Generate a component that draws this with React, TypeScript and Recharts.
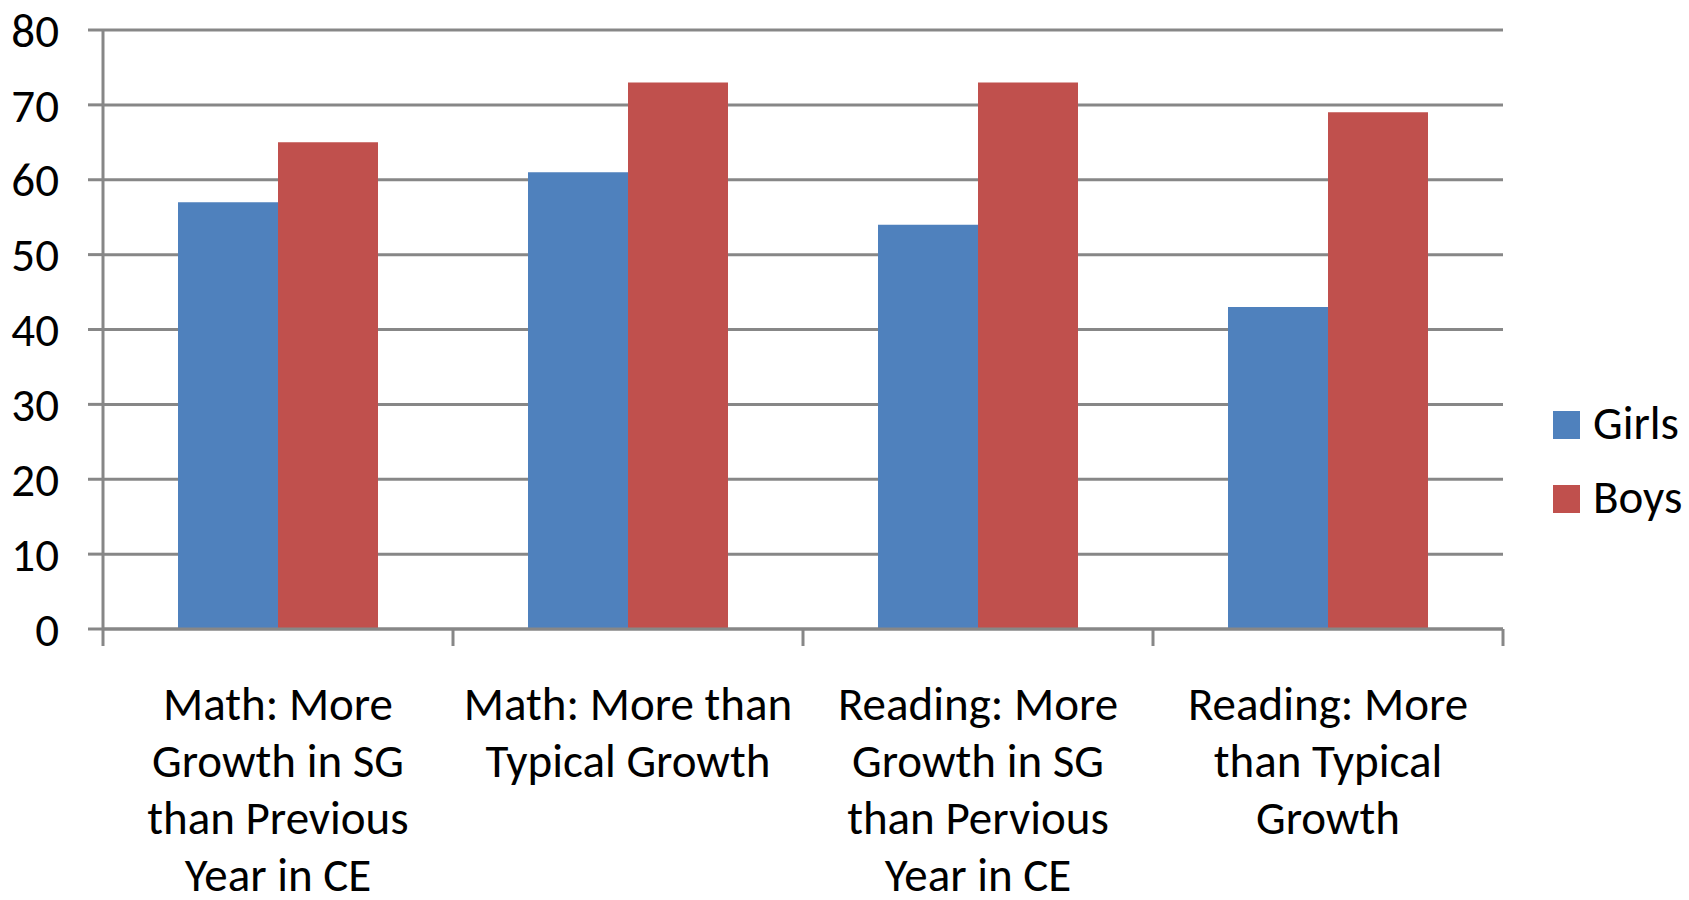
import React from "react";
import { BarChart, Bar, XAxis, YAxis, CartesianGrid, Legend } from "recharts";

const categories = [
  "Math: More Growth in SG than Previous Year in CE",
  "Math: More than Typical Growth",
  "Reading: More Growth in SG than Pervious Year in CE",
  "Reading: More than Typical Growth",
];
const tickLabelLines = [
  ["Math: More", "Growth in SG", "than Previous", "Year in CE"],
  ["Math: More than", "Typical Growth"],
  ["Reading: More", "Growth in SG", "than Pervious", "Year in CE"],
  ["Reading: More", "than Typical", "Growth"],
];
const girls = [57, 61, 54, 43];
const boys = [65, 73, 73, 69];
const seriesNames = ["Girls", "Boys"];
const seriesColors = ["#4F81BD", "#C0504D"];
const yTicks = [0, 10, 20, 30, 40, 50, 60, 70, 80];

const data = categories.map((c, i) => ({ category: c, [seriesNames[0]]: girls[i], [seriesNames[1]]: boys[i] }));

const FONT = "Carlito, Calibri, Lato, sans-serif";
const FS = 47;
const GRAY = "#878787";

const CategoryTick = (props: any) => {
  const { x, y, payload, index, visibleTicksCount } = props;
  const half = payload && payload.offset ? payload.offset : 175;
  const lines = tickLabelLines[index] || [];
  return (
    <g>
      <line x1={x - half} x2={x - half} y1={y} y2={y + 17} stroke={GRAY} strokeWidth={3} />
      {index === visibleTicksCount - 1 && (
        <line x1={x + half} x2={x + half} y1={y} y2={y + 17} stroke={GRAY} strokeWidth={3} />
      )}
      <text x={x} y={y + 91} textAnchor="middle" fontSize={FS} fontFamily={FONT} fill="#000">
        {lines.map((l, k) => (
          <tspan key={k} x={x} dy={k === 0 ? 0 : 57}>
            {l}
          </tspan>
        ))}
      </text>
    </g>
  );
};

const renderLegend = (props: any) => {
  const items = [...(props.payload || [])].sort(
    (a: any, b: any) => seriesNames.indexOf(a.value) - seriesNames.indexOf(b.value)
  );
  return (
    <div style={{ position: "relative", width: 150, height: 150 }}>
      {items.map((p: any, i: number) => (
        <React.Fragment key={i}>
          <div
            style={{
              position: "absolute",
              left: 50,
              top: 36 + i * 74,
              width: 27,
              height: 28,
              background: p.color,
            }}
          />
          <div
            style={{
              position: "absolute",
              left: 90,
              top: 50 + i * 74 - 25,
              fontSize: FS,
              lineHeight: 1,
              fontFamily: FONT,
              color: "#000",
              whiteSpace: "nowrap",
            }}
          >
            {p.value}
          </div>
        </React.Fragment>
      ))}
    </div>
  );
};

export default function App() {
  return (
    <div style={{ position: "absolute", left: 0, top: 0, width: 1689, height: 900, background: "#fff" }}>
      <BarChart
        width={1689}
        height={900}
        data={data}
        margin={{ top: 30, right: 36, bottom: 0, left: 0 }}
        barGap={0}
      >
        <CartesianGrid horizontal={true} vertical={false} stroke={GRAY} strokeWidth={3} />
        <XAxis
          dataKey="category"
          interval={0}
          height={271}
          tickLine={false}
          tickSize={0}
          tickMargin={0}
          axisLine={{ stroke: GRAY, strokeWidth: 3 }}
          tick={<CategoryTick />}
        />
        <YAxis
          width={103}
          domain={[0, 80]}
          ticks={yTicks}
          interval={0}
          tickSize={15}
          tickMargin={29}
          tickLine={{ stroke: GRAY, strokeWidth: 3 }}
          axisLine={{ stroke: GRAY, strokeWidth: 3 }}
          tick={{ fontSize: FS, fontFamily: FONT, fill: "#000" }}
        />
        <Legend layout="vertical" align="right" verticalAlign="middle" content={renderLegend} wrapperStyle={{ width: 150 }} />
        {seriesNames.map((s, i) => (
          <Bar key={s} dataKey={s} fill={seriesColors[i]} barSize={100} isAnimationActive={false} />
        ))}
      </BarChart>
    </div>
  );
}
